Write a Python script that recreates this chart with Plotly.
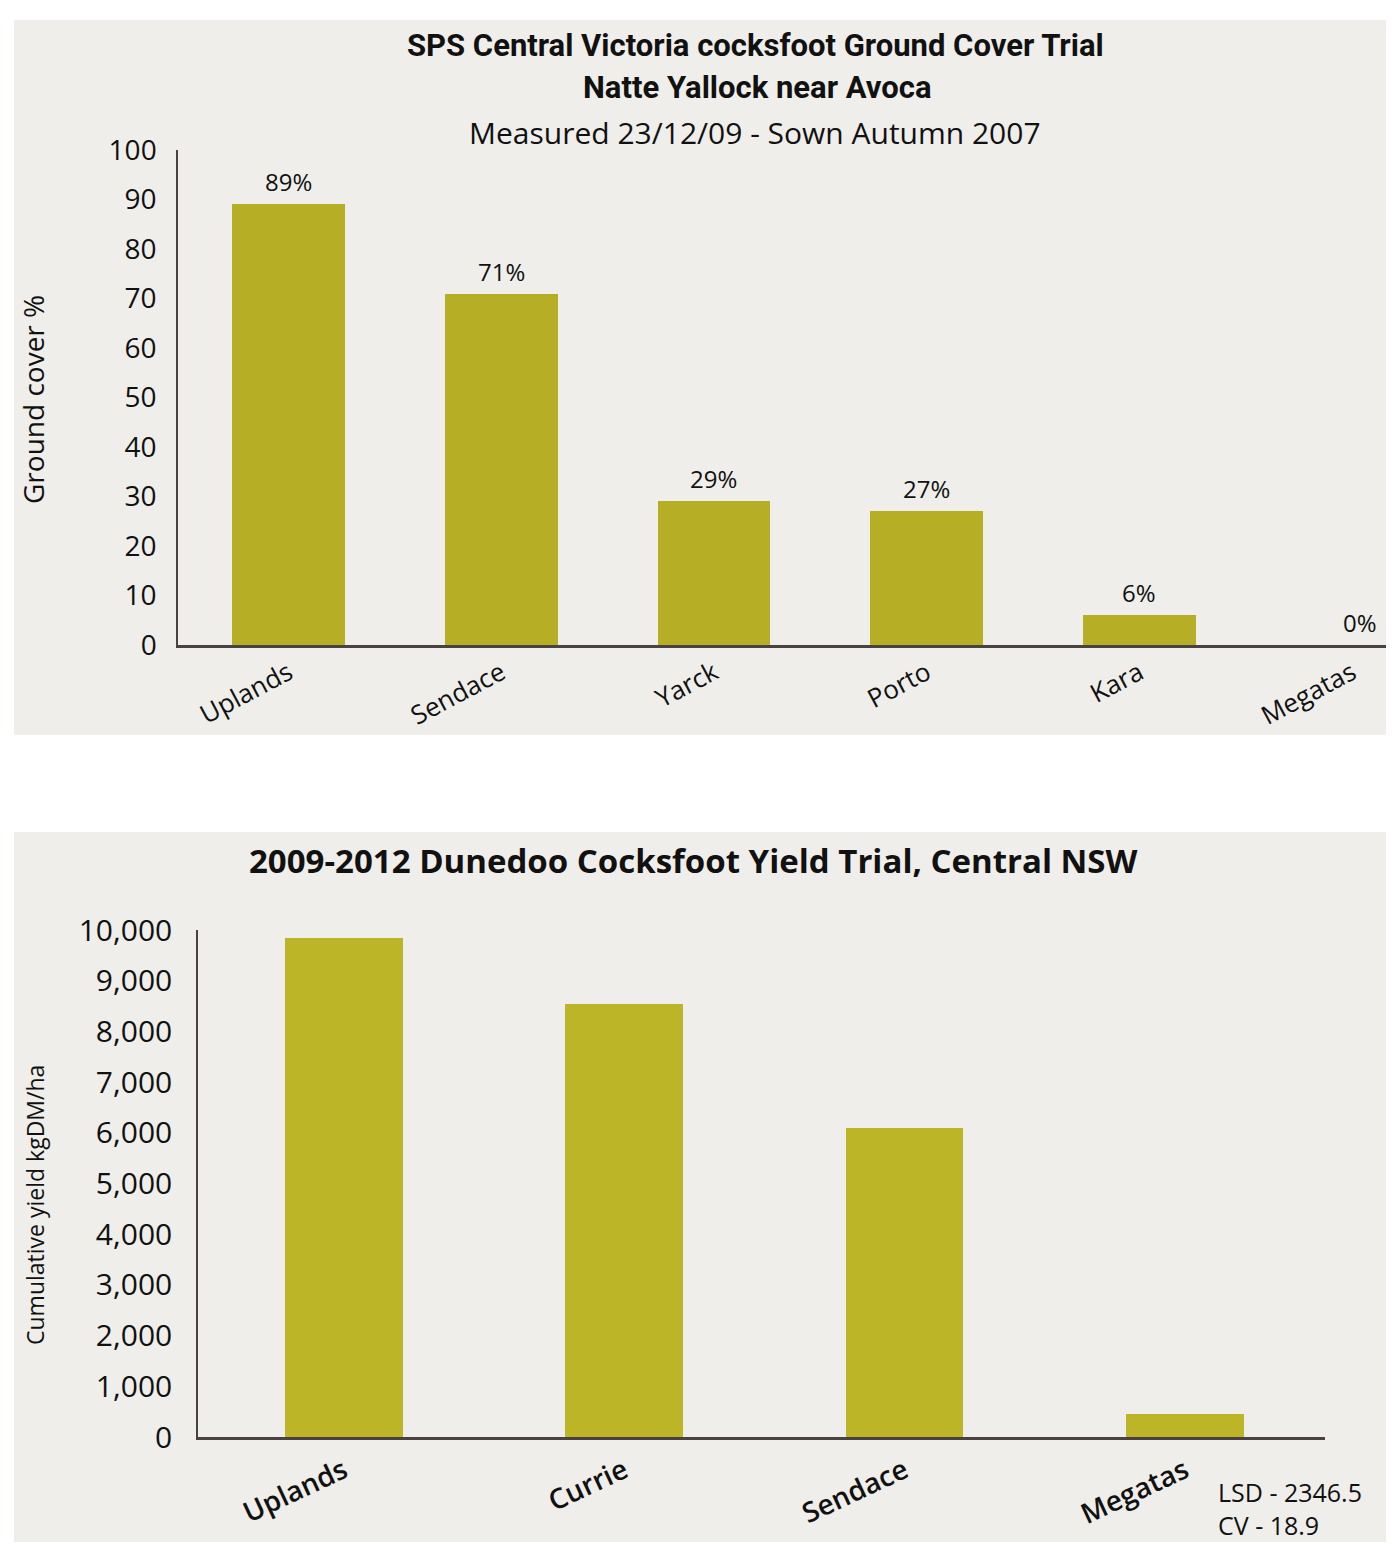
import plotly.graph_objects as go

W, H = 1400, 1566

# ---- data ----
cover_cultivars = ["Uplands", "Sendace", "Yarck", "Porto", "Kara", "Megatas"]
cover_pct = [89, 71, 29, 27, 6, 0]
cover_ticks = list(range(0, 101, 10))

yield_cultivars = ["Uplands", "Currie", "Sendace", "Megatas"]
yield_kg = [9850, 8550, 6100, 450]
yield_ticks = list(range(0, 10001, 1000))

BAR1 = "#b6ae24"
BAR2 = "#bcb527"
PANEL = "#efeeea"
AXIS = "#4a4242"
TXT = "#111111"
SANS = "Open Sans, Noto Sans, DejaVu Sans, sans-serif"
COND = "Roboto, Open Sans, sans-serif"


def px(x):
    return x / W


def py(y):
    return 1 - y / H


fig = go.Figure()

fig.add_trace(go.Bar(x=cover_cultivars, y=cover_pct, width=0.53,
                     marker=dict(color=BAR1, line=dict(width=0)),
                     xaxis="x", yaxis="y", hoverinfo="skip"))
fig.add_trace(go.Bar(x=yield_cultivars, y=yield_kg, width=0.42,
                     marker=dict(color=BAR2, line=dict(width=0)),
                     xaxis="x2", yaxis="y2", hoverinfo="skip"))

annotations = []
for c, v in zip(cover_cultivars, cover_pct):
    annotations.append(dict(x=c, y=v, xref="x", yref="y", text=f"{v}%",
                            showarrow=False, xanchor="center", yanchor="bottom",
                            yshift=4, xshift=8 if v == 0 else 0,
                            font=dict(family=SANS, size=24, color=TXT)))


def label(x, y, text, size, family=SANS, angle=0, xanchor="center", align="center"):
    return dict(x=px(x), y=py(y), xref="paper", yref="paper", showarrow=False,
                xanchor=xanchor, yanchor="middle", align=align, text=text,
                textangle=angle, font=dict(family=family, size=size, color=TXT))


annotations += [
    label(755, 45, "<b>SPS Central Victoria cocksfoot Ground Cover Trial</b>", 31, COND),
    label(757, 88, "<b>Natte Yallock near Avoca</b>", 31, COND),
    label(755, 132, "Measured 23/12/09 - Sown Autumn 2007", 30),
    label(33, 400, "Ground cover %", 28, angle=-90),
    label(693, 860, "<b>2009-2012 Dunedoo Cocksfoot Yield Trial, Central NSW</b>", 33),
    label(35, 1205, "Cumulative yield kgDM/ha", 23, angle=-90),
    label(1216, 1508, "LSD - 2346.5<br>CV - 18.9", 25, xanchor="left", align="left"),
]

shapes = [
    dict(type="rect", xref="paper", yref="paper", x0=px(14), x1=px(1386),
         y0=py(735), y1=py(20), fillcolor=PANEL, line=dict(width=0), layer="below"),
    dict(type="rect", xref="paper", yref="paper", x0=px(14), x1=px(1386),
         y0=py(1542), y1=py(832), fillcolor=PANEL, line=dict(width=0), layer="below"),
]

fig.update_layout(
    width=W, height=H, margin=dict(l=0, r=0, t=0, b=0, pad=0), autosize=False,
    paper_bgcolor="white", plot_bgcolor="rgba(0,0,0,0)",
    showlegend=False, bargap=0,
    annotations=annotations, shapes=shapes,
    xaxis=dict(domain=[px(178), px(1386)], anchor="y", range=[-0.52, 5.16],
               showline=True, linecolor=AXIS, linewidth=2.5, showgrid=False,
               zeroline=False, ticks="", tickangle=-28, automargin=False,
               tickfont=dict(family=SANS, size=26, color=TXT)),
    yaxis=dict(domain=[py(645), py(150)], anchor="x", range=[0, 100],
               tickvals=cover_ticks, showline=True, linecolor=AXIS, linewidth=1.5,
               showgrid=False, zeroline=False, ticks="", ticklabelstandoff=14,
               automargin=False,
               tickfont=dict(family=SANS, size=28, color=TXT)),
    xaxis2=dict(domain=[px(198), px(1325)], anchor="y2", range=[-0.52, 3.5],
                showline=True, linecolor=AXIS, linewidth=2.5, showgrid=False,
                zeroline=False, ticks="", tickangle=-25, automargin=False,
                ticklabelstandoff=4,
                tickfont=dict(family=SANS, size=28, color=TXT, weight=600)),
    yaxis2=dict(domain=[py(1437), py(930)], anchor="x2", range=[0, 10000],
                tickvals=yield_ticks, tickformat=",", showline=True,
                linecolor=AXIS, linewidth=1.5, showgrid=False, zeroline=False,
                ticks="", ticklabelstandoff=18, automargin=False,
                tickfont=dict(family=SANS, size=30, color=TXT)),
)

fig.write_html("out.html")
